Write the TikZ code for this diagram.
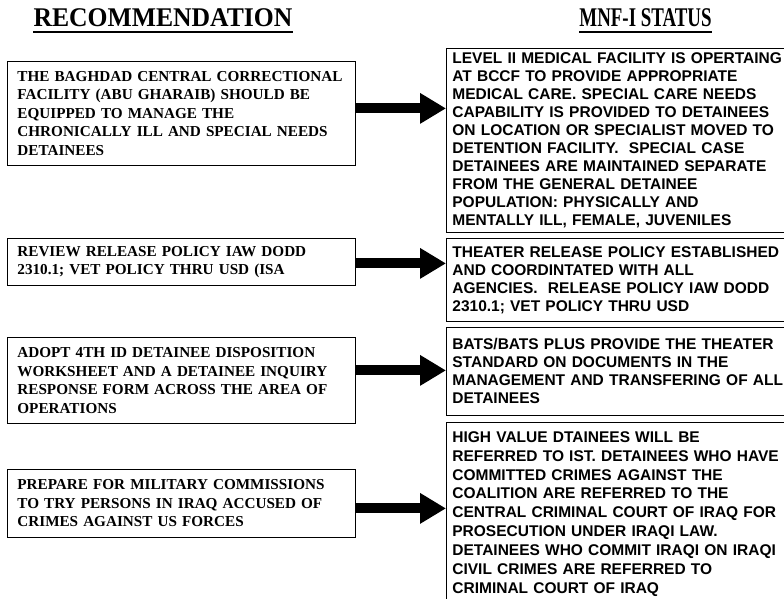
\documentclass[tikz,border=0pt]{standalone}
\usepackage{fontspec}
\usepackage{graphicx}
\setmainfont{Liberation Serif}
\newfontfamily\statfont{Liberation Sans}
\usetikzlibrary{arrows.meta}

\tikzset{
  recbox/.style={draw, line width=.8pt, anchor=north west, text width=328pt, inner xsep=10pt, inner ysep=0pt, align=left, font=\bfseries\fontsize{15.2}{18.5}\selectfont},
  statbox/.style={draw, line width=.8pt, anchor=north west, text width=342pt, inner xsep=6pt, inner ysep=0pt, align=left, font=\statfont\bfseries\fontsize{15.5}{18}\selectfont},
  headline/.style={font=\bfseries\fontsize{27}{30}\selectfont, inner sep=0pt, anchor=base},
  headrule/.style={line width=2pt},
  fatarrow/.style={line width=10pt, -{Triangle[length=26pt,width=29pt]}}
}

\begin{document}
\begin{tikzpicture}[x=1pt, y=-1pt]
\useasboundingbox (0,0) rectangle (784,599);
\clip (0,0) rectangle (784,599);

\node[headline] (rechead) at (163,27) {\scalebox{0.95}[1]{RECOMMENDATION}};
\node[headline] (stathead) at (645.5,27) {\scalebox{0.70}[1]{MNF-I STATUS}};

\node[recbox, minimum height=104pt] (rec1) at (7,61) {THE BAGHDAD CENTRAL CORRECTIONAL\\FACILITY (ABU GHARAIB) SHOULD BE\\EQUIPPED TO MANAGE THE\\CHRONICALLY ILL AND SPECIAL NEEDS\\DETAINEES};
\node[recbox, minimum height=47pt] (rec2) at (7,238) {REVIEW RELEASE POLICY IAW DODD\\2310.1; VET POLICY THRU USD (ISA};
\node[recbox, minimum height=86pt] (rec3) at (7,337) {ADOPT 4TH ID DETAINEE DISPOSITION\\WORKSHEET AND A DETAINEE INQUIRY\\RESPONSE FORM ACROSS THE AREA OF\\OPERATIONS};
\node[recbox, minimum height=68pt] (rec4) at (7,469) {PREPARE FOR MILITARY COMMISSIONS\\TO TRY PERSONS IN IRAQ ACCUSED OF\\CRIMES AGAINST US FORCES};

\node[statbox, minimum height=184pt] (stat1) at (446,48) {LEVEL II MEDICAL FACILITY IS OPERTAING\\AT BCCF TO PROVIDE APPROPRIATE\\MEDICAL CARE. SPECIAL CARE NEEDS\\CAPABILITY IS PROVIDED TO DETAINEES\\ON LOCATION OR SPECIALIST MOVED TO\\DETENTION FACILITY.\ \ SPECIAL CASE\\DETAINEES ARE MAINTAINED SEPARATE\\FROM THE GENERAL DETAINEE\\POPULATION: PHYSICALLY AND\\MENTALLY ILL, FEMALE, JUVENILES};
\node[statbox, minimum height=83pt] (stat2) at (446,238) {THEATER RELEASE POLICY ESTABLISHED\\AND COORDINTATED WITH ALL\\AGENCIES.\ \ RELEASE POLICY IAW DODD\\2310.1; VET POLICY THRU USD};
\node[statbox, minimum height=88pt] (stat3) at (446,327) {BATS/BATS PLUS PROVIDE THE THEATER\\STANDARD ON DOCUMENTS IN THE\\MANAGEMENT AND TRANSFERING OF ALL\\DETAINEES};
\node[statbox, inner ysep=9pt, font=\statfont\bfseries\fontsize{15.5}{18.9}\selectfont] (stat4) at (446,422) {HIGH VALUE DTAINEES WILL BE\\REFERRED TO IST. DETAINEES WHO HAVE\\COMMITTED CRIMES AGAINST THE\\COALITION ARE REFERRED TO THE\\CENTRAL CRIMINAL COURT OF IRAQ FOR\\PROSECUTION UNDER IRAQI LAW.\\DETAINEES WHO COMMIT IRAQI ON IRAQI\\CIVIL CRIMES ARE REFERRED TO\\CRIMINAL COURT OF IRAQ\\[30pt]\mbox{}};

\draw[headrule] ([yshift=-5pt]rechead.base west) -- ([yshift=-5pt]rechead.base east);
\draw[headrule] ([yshift=-5pt]stathead.base west) -- ([yshift=-5pt]stathead.base east);

\draw[fatarrow] ([yshift=5pt]rec1.east) -- ([yshift=5pt]rec1.east -| stat1.west);
\draw[fatarrow] ([yshift=-1.5pt]rec2.east) -- ([yshift=-1.5pt]rec2.east -| stat2.west);
\draw[fatarrow] ([yshift=10pt]rec3.east) -- ([yshift=10pt]rec3.east -| stat3.west);
\draw[fatarrow] ([yshift=-5pt]rec4.east) -- ([yshift=-5pt]rec4.east -| stat4.west);
\end{tikzpicture}
\end{document}
